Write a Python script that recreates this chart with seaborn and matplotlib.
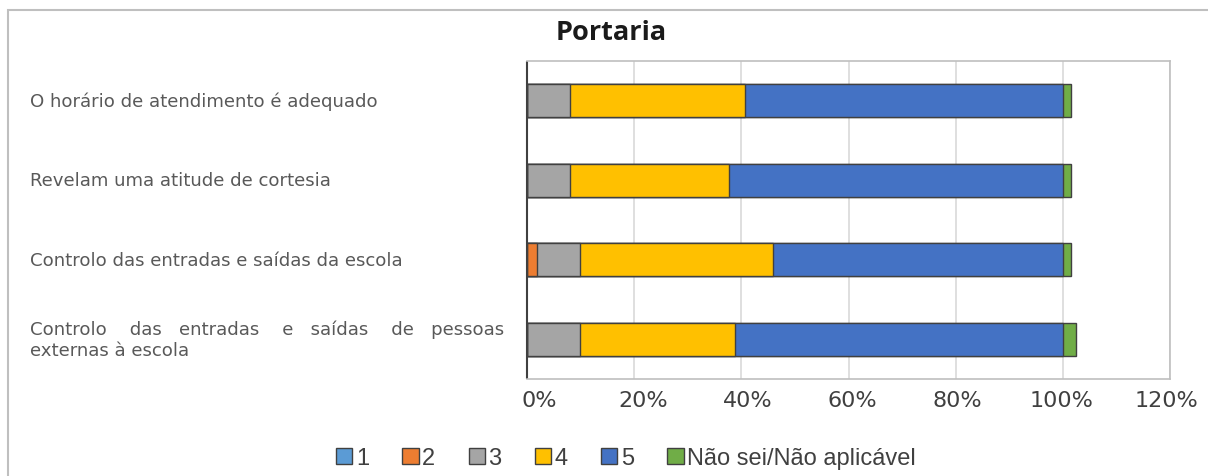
#!/usr/bin/env python3
# portaria.py - stacked horizontal bars, percentage of answers per item

import matplotlib
matplotlib.use('Agg')
import matplotlib.pyplot as plt
import matplotlib.transforms as mtransforms
from matplotlib.patches import Patch, Rectangle
import pandas as pd
import seaborn as sns

# Data =========================================================================

items = [
    'O horário de atendimento é adequado',
    'Revelam uma atitude de cortesia',
    'Controlo das entradas e saídas da escola',
    'Controlo das entradas e saídas de pessoas externas à escola',
]
item_labels = [
    'O horário de atendimento é adequado',
    'Revelam uma atitude de cortesia',
    'Controlo das entradas e saídas da escola',
    'Controlo    das   entradas    e   saídas    de   pessoas\nexternas à escola',
]
answers = ['1', '2', '3', '4', '5', 'Não sei/Não aplicável']
v1 = [0.0, 0.0, 0.0, 0.0]
v2 = [0.0, 0.0, 1.8, 0.0]
v3 = [8.1, 8.1, 8.1, 9.9]
v4 = [32.5, 29.6, 36.1, 28.9]
v5 = [59.4, 62.3, 54.0, 61.2]
v_ns = [1.5, 1.5, 1.5, 2.4]
colors = ['#5B9BD5', '#ED7D31', '#A5A5A5', '#FFC000', '#4472C4', '#70AD47']
xticks = [0, 20, 40, 60, 80, 100, 120]

# Plot =========================================================================

def main():
    sns.set_theme(style='white')
    plt.rcParams['font.family'] = ['DejaVu Sans']
    plt.rcParams['xtick.bottom'] = False
    plt.rcParams['ytick.left'] = False

    df = pd.DataFrame({'item': items, '1': v1, '2': v2, '3': v3, '4': v4,
                       '5': v5, 'Não sei/Não aplicável': v_ns})
    cum = df[answers].cumsum(axis=1)
    cum['item'] = df['item']

    fig = plt.figure(figsize=(12.08, 4.77), dpi=100)
    ax = fig.add_axes([527 / 1208, 1 - 380 / 477, (1170 - 527) / 1208,
                       (380 - 62) / 477])

    # draw cumulative totals from the largest down so segments stack
    for ans, col in reversed(list(zip(answers, colors))):
        sns.barplot(data=cum, x=ans, y='item', order=items, color=col,
                    orient='h', width=0.42, edgecolor='#404040',
                    linewidth=1.0, saturation=1, errorbar=None, ax=ax,
                    zorder=3)

    ax.set_xlim(0, 120)
    ax.set_ylim(3.5, -0.5)
    ax.set_xticks(xticks)
    ax.set_xticklabels([])
    ax.tick_params(axis='both', length=0, bottom=False, left=False)
    # labels in the original sit a bit off their gridlines (right at 0%,
    # left at 120%), nudge them the same way
    xtrans = ax.get_xaxis_transform()
    for t in xticks:
        dx = (12 - 16 * t / 120) / 100
        ax.text(t, 0, '{}%'.format(t), ha='center', va='top', fontsize=16,
                color='#404040', clip_on=False, zorder=10,
                bbox=dict(facecolor='white', edgecolor='none', pad=3),
                transform=xtrans + mtransforms.ScaledTranslation(
                    dx, -0.11, fig.dpi_scale_trans))
    ax.set_yticks([])
    ax.set_xlabel('')
    ax.set_ylabel('')
    ax.grid(axis='x', color='#D9D9D9', linewidth=1.2, zorder=0)
    for side in ('top', 'right', 'bottom'):
        ax.spines[side].set_color('#BFBFBF')
        ax.spines[side].set_linewidth(1.2)
    ax.spines['left'].set_color('#404040')
    ax.spines['left'].set_linewidth(1.5)
    ax.spines['left'].set_capstyle('butt')

    trans = mtransforms.blended_transform_factory(fig.transFigure,
                                                  ax.transData)
    for i, lab in enumerate(item_labels):
        fig.text(30 / 1208, i, lab, transform=trans, ha='left',
                 va='center', fontsize=13.1, color='#595959',
                 linespacing=1.25)

    fig.text(611 / 1208, 1 - 33 / 477, 'Portaria', ha='center', va='center',
             fontsize=19.5, fontweight='bold', family='Open Sans',
             color='#1A1A1A')

    handles = [Patch(facecolor=c, edgecolor='#404040', linewidth=1.0)
               for c in colors]
    leg = fig.legend(handles, answers, loc='center',
                     bbox_to_anchor=(626 / 1208, 1 - 459 / 477), ncol=6,
                     frameon=False, handlelength=0.68, handleheight=0.68,
                     handletextpad=0.15, columnspacing=1.42,
                     prop={'family': 'Liberation Sans', 'size': 17})
    for t in leg.get_texts():
        t.set_color('#404040')

    fig.add_artist(Rectangle((8 / 1208, -0.1), 1.2, 1 - 11 / 477 + 0.1,
                             transform=fig.transFigure, fill=False,
                             edgecolor='#BFBFBF', linewidth=1.5,
                             clip_on=False))

    fig.savefig('out.png', dpi=100)


# Execute ======================================================================

if __name__ == '__main__':
    main()
